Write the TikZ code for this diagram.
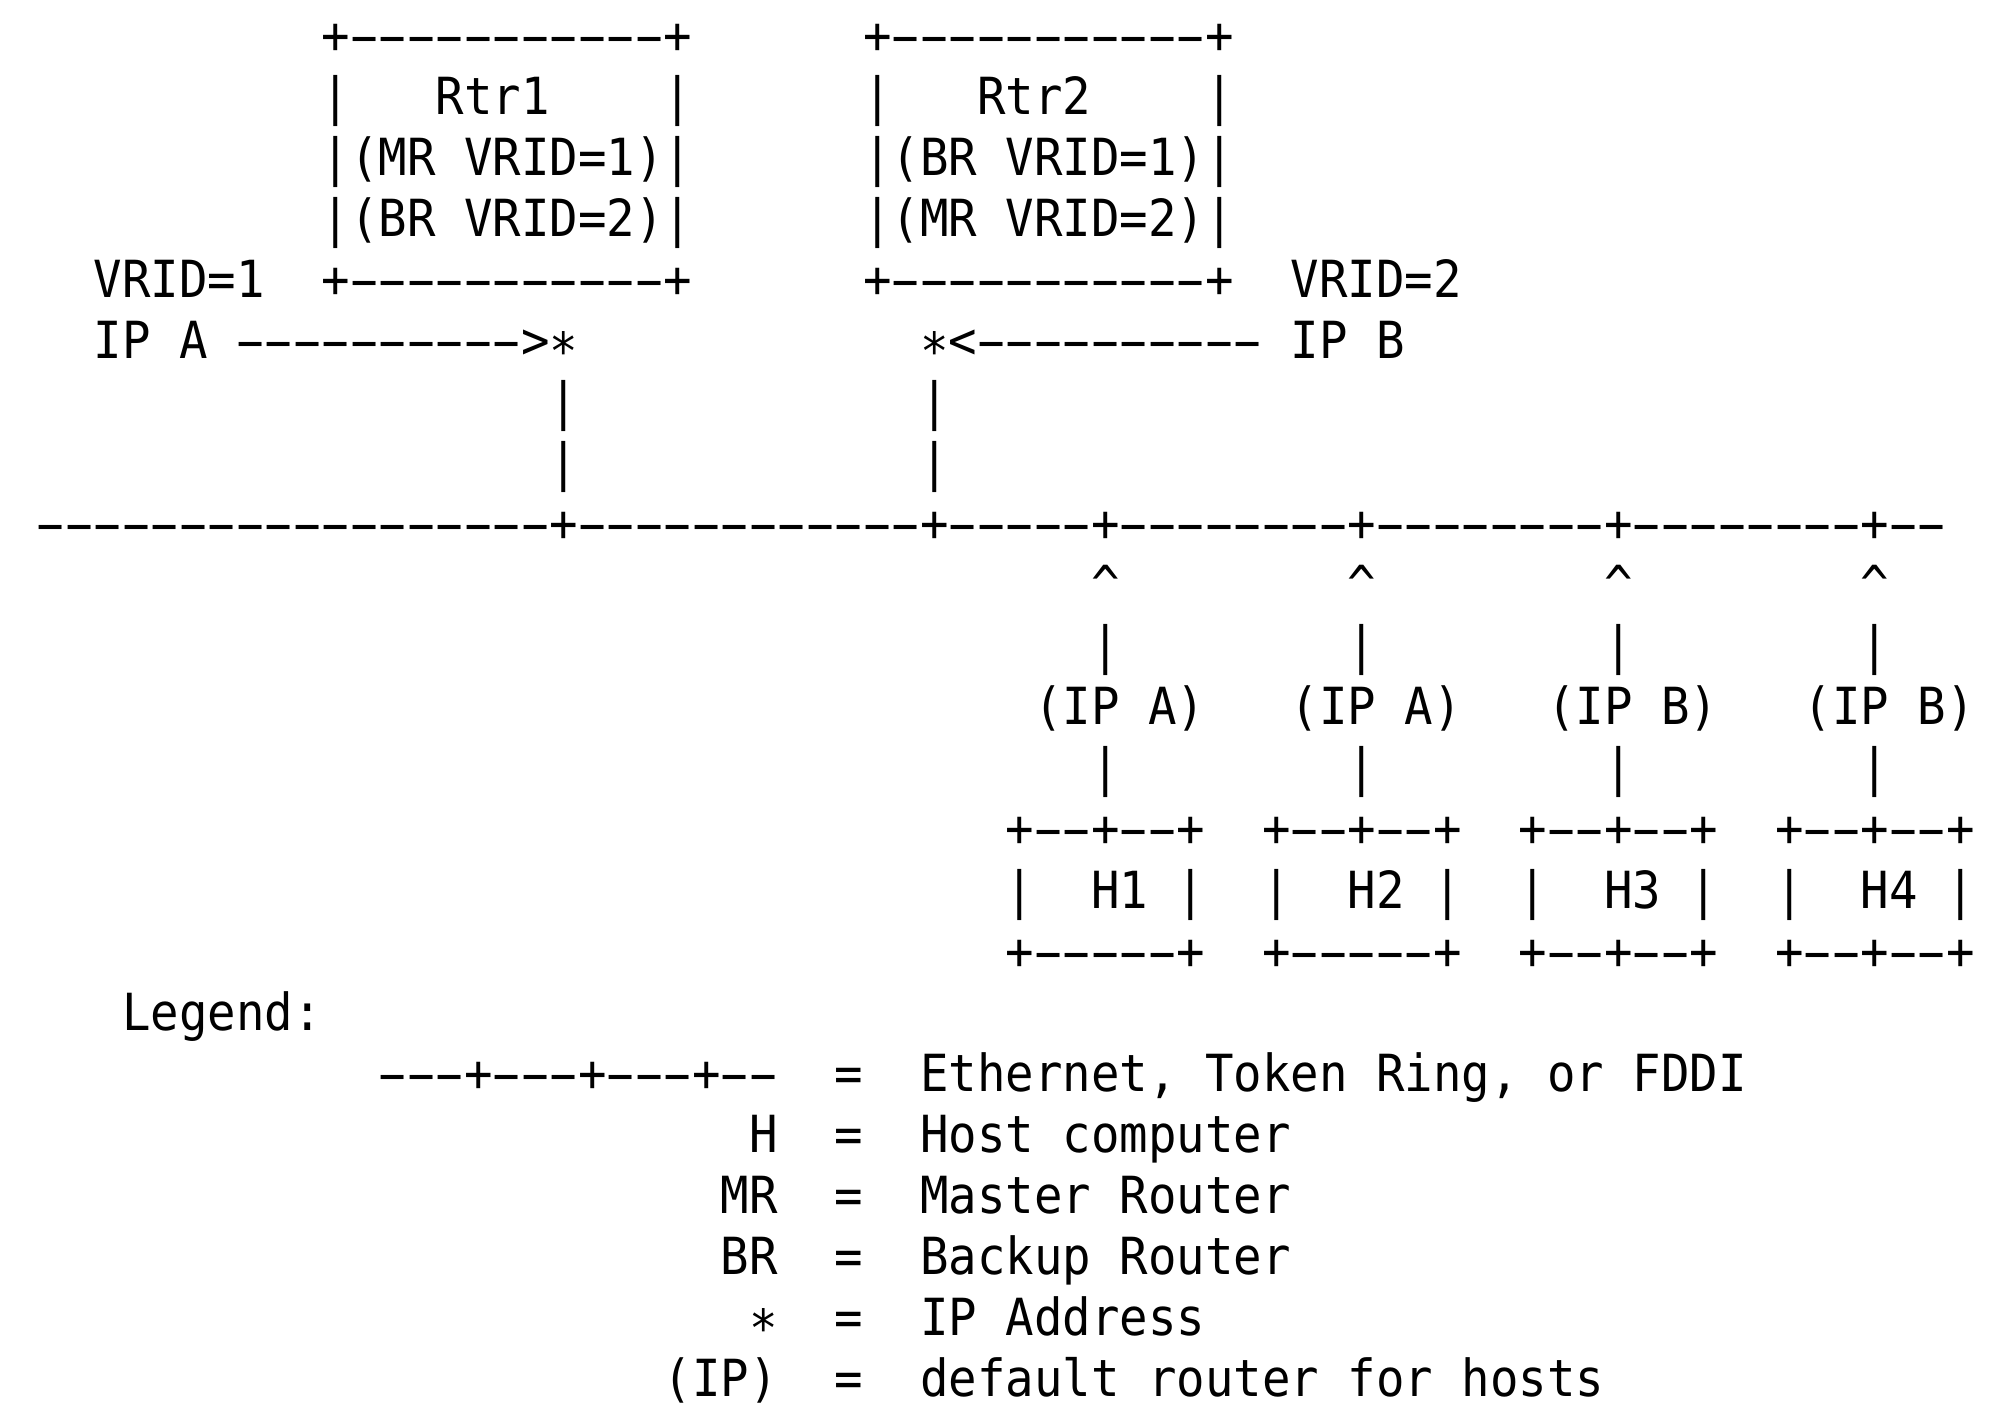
\documentclass[tikz,border=0pt]{standalone}
\usepackage{fontspec}
\newfontfamily\asciimono[FakeStretch=0.925]{DejaVu Sans Mono}
\newcommand\hy{\makebox[8.55pt][c]{\scalebox{1.9}[1]{-}}}
\ExplSyntaxOn
\cs_new:Npn \hys #1 { \prg_replicate:nn {#1} {\hy} }
\ExplSyntaxOff
\newcommand\lowstar{\raisebox{-0.22em}[0.5em][0pt]{*}}
\tikzset{
  txt/.style={anchor=base west, inner sep=0pt, outer sep=0pt,
    font=\asciimono\fontsize{15.35pt}{18pt}\selectfont\frenchspacing},
  gp/.style 2 args={at={({11.025pt+#1*8.55pt},{-15.9pt-#2*18.321pt})}}
}
\begin{document}
\begin{tikzpicture}
\fill[white] (0,0) rectangle (600pt,-426.9pt);
\useasboundingbox (0,0) rectangle (600pt,-426.9pt);
% routers
\node[txt,gp={10}{0}] (r1top) {+\hys{11}+};
\node[txt,gp={29}{0}] (r2top) {+\hys{11}+};
\node[txt,gp={10}{1}] (r1l) {|};
\node[txt,gp={14}{1}] (r1name) {Rtr1};
\node[txt,gp={22}{1}] (r1r) {|};
\node[txt,gp={29}{1}] (r2l) {|};
\node[txt,gp={33}{1}] (r2name) {Rtr2};
\node[txt,gp={41}{1}] (r2r) {|};
\node[txt,gp={10}{2}] (r1a) {|(MR~VRID=1)|};
\node[txt,gp={29}{2}] (r2a) {|(BR~VRID=1)|};
\node[txt,gp={10}{3}] (r1b) {|(BR~VRID=2)|};
\node[txt,gp={29}{3}] (r2b) {|(MR~VRID=2)|};
\node[txt,gp={2}{4}] (vrid1) {VRID=1};
\node[txt,gp={10}{4}] (r1bot) {+\hys{11}+};
\node[txt,gp={29}{4}] (r2bot) {+\hys{11}+};
\node[txt,gp={44}{4}] (vrid2) {VRID=2};
\node[txt,gp={2}{5}] (ipa) {IP~A};
\node[txt,gp={7}{5}] (arra) {\hys{10}>\lowstar};
\node[txt,gp={31}{5}] (arrb) {\lowstar<\hys{10}};
\node[txt,gp={44}{5}] (ipb) {IP~B};
\node[txt,gp={18}{6}] (va1) {|};
\node[txt,gp={31}{6}] (vb1) {|};
\node[txt,gp={18}{7}] (va2) {|};
\node[txt,gp={31}{7}] (vb2) {|};
% LAN
\node[txt,gp={0}{8}] (lan1) {\hys{18}+};
\node[txt,gp={19}{8}] (lan2) {\hys{12}+};
\node[txt,gp={32}{8}] (lan3) {\hys{5}+};
\node[txt,gp={38}{8}] (lan4) {\hys{8}+};
\node[txt,gp={47}{8}] (lan5) {\hys{8}+};
\node[txt,gp={56}{8}] (lan6) {\hys{8}+};
\node[txt,gp={65}{8}] (lan7) {\hys{2}};
% hosts
\foreach \c [count=\i] in {37,46,55,64} {
  \node[txt,gp={\c}{9}] (car\i) {\textasciicircum};
  \node[txt,gp={\c}{10}] (up\i) {|};
  \node[txt,gp={\c}{12}] (dn\i) {|};
}
\node[txt,gp={35}{11}] (gw1) {(IP~A)};
\node[txt,gp={44}{11}] (gw2) {(IP~A)};
\node[txt,gp={53}{11}] (gw3) {(IP~B)};
\node[txt,gp={62}{11}] (gw4) {(IP~B)};
\foreach \c [count=\i] in {34,43,52,61} {
  \node[txt,gp={\c}{13}] (htop\i) {+\hys{2}+\hys{2}+};
  \node[txt,gp={\c}{14}] (hmid\i) {|~~H\i~|};
}
\node[txt,gp={34}{15}] (hbot1) {+\hys{5}+};
\node[txt,gp={43}{15}] (hbot2) {+\hys{5}+};
\node[txt,gp={52}{15}] (hbot3) {+\hys{2}+\hys{2}+};
\node[txt,gp={61}{15}] (hbot4) {+\hys{2}+\hys{2}+};
% legend
\node[txt,gp={3}{16}] (legend) {Legend:};
\node[txt,gp={12}{17}] (k1) {\hys{3}+\hys{3}+\hys{3}+\hys{2}};
\node[txt,gp={25}{18}] (k2) {H};
\node[txt,gp={24}{19}] (k3) {MR};
\node[txt,gp={24}{20}] (k4) {BR};
\node[txt,gp={25}{21}] (k5) {\lowstar};
\node[txt,gp={22}{22}] (k6) {(IP)};
\foreach \r [count=\i] in {17,...,22} {
  \node[txt,gp={28}{\r}] (eq\i) {=};
}
\node[txt,gp={31}{17}] (d1) {Ethernet, Token Ring, or FDDI};
\node[txt,gp={31}{18}] (d2) {Host computer};
\node[txt,gp={31}{19}] (d3) {Master Router};
\node[txt,gp={31}{20}] (d4) {Backup Router};
\node[txt,gp={31}{21}] (d5) {IP Address};
\node[txt,gp={31}{22}] (d6) {default router for hosts};
\end{tikzpicture}
\end{document}
